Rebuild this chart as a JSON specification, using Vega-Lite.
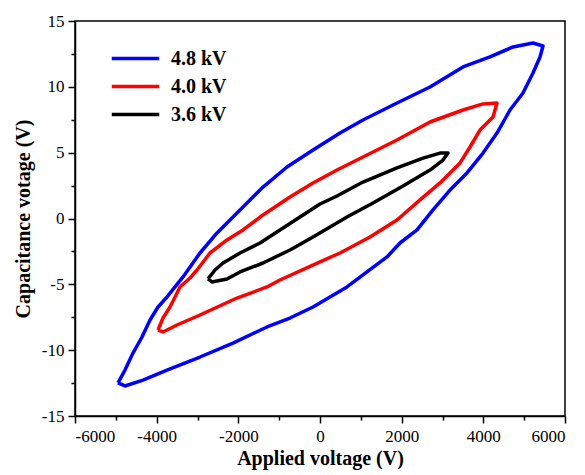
{
  "$schema": "https://vega.github.io/schema/vega-lite/v6.json",
  "width": 490,
  "height": 395,
  "autosize": {"type": "none"},
  "padding": {"left": 75, "top": 21, "right": 20, "bottom": 59},
  "background": "white",
  "config": {
    "view": {"stroke": "black", "strokeWidth": 1.5},
    "font": "Liberation Serif",
    "axis": {"labelFont": "Liberation Serif", "titleFont": "Liberation Serif"},
    "legend": {"labelFont": "Liberation Serif"}
  },
  "data": {
    "values": [
      {"s": "4.8 kV", "i": 1, "x": -4947, "y": -12.49},
      {"s": "4.8 kV", "i": 2, "x": -4776, "y": -11.51},
      {"s": "4.8 kV", "i": 3, "x": -4580, "y": -10.22},
      {"s": "4.8 kV", "i": 4, "x": -4359, "y": -9.0},
      {"s": "4.8 kV", "i": 5, "x": -4163, "y": -7.71},
      {"s": "4.8 kV", "i": 6, "x": -3967, "y": -6.72},
      {"s": "4.8 kV", "i": 7, "x": -3747, "y": -5.96},
      {"s": "4.8 kV", "i": 8, "x": -3551, "y": -5.2},
      {"s": "4.8 kV", "i": 9, "x": -3355, "y": -4.44},
      {"s": "4.8 kV", "i": 10, "x": -2939, "y": -2.62},
      {"s": "4.8 kV", "i": 11, "x": -2522, "y": -1.1},
      {"s": "4.8 kV", "i": 12, "x": -2204, "y": -0.11},
      {"s": "4.8 kV", "i": 13, "x": -1886, "y": 0.87},
      {"s": "4.8 kV", "i": 14, "x": -1396, "y": 2.39},
      {"s": "4.8 kV", "i": 15, "x": -808, "y": 3.91},
      {"s": "4.8 kV", "i": 16, "x": -171, "y": 5.2},
      {"s": "4.8 kV", "i": 17, "x": 490, "y": 6.49},
      {"s": "4.8 kV", "i": 18, "x": 1053, "y": 7.48},
      {"s": "4.8 kV", "i": 19, "x": 1886, "y": 8.77},
      {"s": "4.8 kV", "i": 20, "x": 2694, "y": 9.99},
      {"s": "4.8 kV", "i": 21, "x": 3502, "y": 11.51},
      {"s": "4.8 kV", "i": 22, "x": 4163, "y": 12.27},
      {"s": "4.8 kV", "i": 23, "x": 4727, "y": 13.03},
      {"s": "4.8 kV", "i": 24, "x": 5216, "y": 13.33},
      {"s": "4.8 kV", "i": 25, "x": 5461, "y": 13.1},
      {"s": "4.8 kV", "i": 26, "x": 5388, "y": 12.27},
      {"s": "4.8 kV", "i": 27, "x": 5216, "y": 11.05},
      {"s": "4.8 kV", "i": 28, "x": 4971, "y": 9.53},
      {"s": "4.8 kV", "i": 29, "x": 4653, "y": 8.24},
      {"s": "4.8 kV", "i": 30, "x": 4335, "y": 6.49},
      {"s": "4.8 kV", "i": 31, "x": 3992, "y": 4.97},
      {"s": "4.8 kV", "i": 32, "x": 3600, "y": 3.46},
      {"s": "4.8 kV", "i": 33, "x": 3184, "y": 2.16},
      {"s": "4.8 kV", "i": 34, "x": 2767, "y": 0.65},
      {"s": "4.8 kV", "i": 35, "x": 2376, "y": -0.87},
      {"s": "4.8 kV", "i": 36, "x": 1959, "y": -1.86},
      {"s": "4.8 kV", "i": 37, "x": 1641, "y": -2.92},
      {"s": "4.8 kV", "i": 38, "x": 1151, "y": -4.06},
      {"s": "4.8 kV", "i": 39, "x": 661, "y": -5.2},
      {"s": "4.8 kV", "i": 40, "x": 245, "y": -5.96},
      {"s": "4.8 kV", "i": 41, "x": -171, "y": -6.72},
      {"s": "4.8 kV", "i": 42, "x": -735, "y": -7.56},
      {"s": "4.8 kV", "i": 43, "x": -1298, "y": -8.24},
      {"s": "4.8 kV", "i": 44, "x": -2131, "y": -9.46},
      {"s": "4.8 kV", "i": 45, "x": -2939, "y": -10.52},
      {"s": "4.8 kV", "i": 46, "x": -3747, "y": -11.51},
      {"s": "4.8 kV", "i": 47, "x": -4335, "y": -12.27},
      {"s": "4.8 kV", "i": 48, "x": -4776, "y": -12.72},
      {"s": "4.8 kV", "i": 49, "x": -4947, "y": -12.49},
      {"s": "4.0 kV", "i": 1, "x": -3967, "y": -8.47},
      {"s": "4.0 kV", "i": 2, "x": -3845, "y": -7.56},
      {"s": "4.0 kV", "i": 3, "x": -3673, "y": -6.72},
      {"s": "4.0 kV", "i": 4, "x": -3429, "y": -5.2},
      {"s": "4.0 kV", "i": 5, "x": -3184, "y": -4.52},
      {"s": "4.0 kV", "i": 6, "x": -3012, "y": -3.91},
      {"s": "4.0 kV", "i": 7, "x": -2694, "y": -2.62},
      {"s": "4.0 kV", "i": 8, "x": -2278, "y": -1.63},
      {"s": "4.0 kV", "i": 9, "x": -1886, "y": -0.87},
      {"s": "4.0 kV", "i": 10, "x": -1396, "y": 0.27},
      {"s": "4.0 kV", "i": 11, "x": -735, "y": 1.63},
      {"s": "4.0 kV", "i": 12, "x": -171, "y": 2.7},
      {"s": "4.0 kV", "i": 13, "x": 416, "y": 3.68},
      {"s": "4.0 kV", "i": 14, "x": 1053, "y": 4.67},
      {"s": "4.0 kV", "i": 15, "x": 1886, "y": 5.96},
      {"s": "4.0 kV", "i": 16, "x": 2694, "y": 7.33},
      {"s": "4.0 kV", "i": 17, "x": 3502, "y": 8.24},
      {"s": "4.0 kV", "i": 18, "x": 3992, "y": 8.7},
      {"s": "4.0 kV", "i": 19, "x": 4335, "y": 8.77},
      {"s": "4.0 kV", "i": 20, "x": 4237, "y": 7.71},
      {"s": "4.0 kV", "i": 21, "x": 3918, "y": 6.72},
      {"s": "4.0 kV", "i": 22, "x": 3674, "y": 5.43},
      {"s": "4.0 kV", "i": 23, "x": 3429, "y": 4.22},
      {"s": "4.0 kV", "i": 24, "x": 2939, "y": 2.7},
      {"s": "4.0 kV", "i": 25, "x": 2449, "y": 1.41},
      {"s": "4.0 kV", "i": 26, "x": 1886, "y": -0.11},
      {"s": "4.0 kV", "i": 27, "x": 1225, "y": -1.41},
      {"s": "4.0 kV", "i": 28, "x": 490, "y": -2.62},
      {"s": "4.0 kV", "i": 29, "x": 0, "y": -3.3},
      {"s": "4.0 kV", "i": 30, "x": -980, "y": -4.67},
      {"s": "4.0 kV", "i": 31, "x": -1298, "y": -5.2},
      {"s": "4.0 kV", "i": 32, "x": -2033, "y": -6.04},
      {"s": "4.0 kV", "i": 33, "x": -2939, "y": -7.33},
      {"s": "4.0 kV", "i": 34, "x": -3502, "y": -8.09},
      {"s": "4.0 kV", "i": 35, "x": -3845, "y": -8.62},
      {"s": "4.0 kV", "i": 36, "x": -3967, "y": -8.47},
      {"s": "3.6 kV", "i": 1, "x": -2743, "y": -4.59},
      {"s": "3.6 kV", "i": 2, "x": -2571, "y": -3.91},
      {"s": "3.6 kV", "i": 3, "x": -2375, "y": -3.38},
      {"s": "3.6 kV", "i": 4, "x": -1959, "y": -2.62},
      {"s": "3.6 kV", "i": 5, "x": -1469, "y": -1.86},
      {"s": "3.6 kV", "i": 6, "x": -980, "y": -0.87},
      {"s": "3.6 kV", "i": 7, "x": -490, "y": 0.11},
      {"s": "3.6 kV", "i": 8, "x": 0, "y": 1.1},
      {"s": "3.6 kV", "i": 9, "x": 416, "y": 1.71},
      {"s": "3.6 kV", "i": 10, "x": 1053, "y": 2.77},
      {"s": "3.6 kV", "i": 11, "x": 1886, "y": 3.84},
      {"s": "3.6 kV", "i": 12, "x": 2523, "y": 4.59},
      {"s": "3.6 kV", "i": 13, "x": 2939, "y": 4.97},
      {"s": "3.6 kV", "i": 14, "x": 3135, "y": 4.97},
      {"s": "3.6 kV", "i": 15, "x": 3012, "y": 4.44},
      {"s": "3.6 kV", "i": 16, "x": 2694, "y": 3.68},
      {"s": "3.6 kV", "i": 17, "x": 2033, "y": 2.47},
      {"s": "3.6 kV", "i": 18, "x": 1298, "y": 1.18},
      {"s": "3.6 kV", "i": 19, "x": 661, "y": 0.11},
      {"s": "3.6 kV", "i": 20, "x": 245, "y": -0.65},
      {"s": "3.6 kV", "i": 21, "x": -171, "y": -1.41},
      {"s": "3.6 kV", "i": 22, "x": -735, "y": -2.39},
      {"s": "3.6 kV", "i": 23, "x": -1396, "y": -3.38},
      {"s": "3.6 kV", "i": 24, "x": -1959, "y": -4.06},
      {"s": "3.6 kV", "i": 25, "x": -2278, "y": -4.59},
      {"s": "3.6 kV", "i": 26, "x": -2645, "y": -4.82},
      {"s": "3.6 kV", "i": 27, "x": -2743, "y": -4.59}
    ]
  },
  "layer": [
    {
      "mark": {"type": "line", "strokeWidth": 3.5, "strokeJoin": "round"},
      "encoding": {
        "x": {
          "field": "x", "type": "quantitative",
          "scale": {"domain": [-6000, 6000], "nice": false, "zero": false},
          "axis": {
            "values": [-6000, -4000, -2000, 0, 2000, 4000, 6000],
            "labelExpr": "'' + datum.value",
            "grid": false, "domainColor": "black", "domainWidth": 1.5,
            "tickColor": "black", "tickWidth": 1.5, "tickSize": 7,
            "labelFont": "Liberation Serif", "labelFontSize": 17, "labelColor": "black", "labelPadding": 5,
            "title": "Applied voltage (V)", "titleFont": "Liberation Serif", "titleFontSize": 20,
            "titleFontWeight": "bold", "titleColor": "black", "titlePadding": 4
          }
        },
        "y": {
          "field": "y", "type": "quantitative",
          "scale": {"domain": [-15, 15], "nice": false, "zero": false},
          "axis": {
            "values": [-15, -10, -5, 0, 5, 10, 15],
            "labelExpr": "'' + datum.value",
            "grid": false, "domainColor": "black", "domainWidth": 1.5,
            "tickColor": "black", "tickWidth": 1.5, "tickSize": 7,
            "labelFont": "Liberation Serif", "labelFontSize": 17, "labelColor": "black", "labelPadding": 4,
            "title": "Capacitance votage (V)", "titleFont": "Liberation Serif", "titleFontSize": 20,
            "titleFontWeight": "bold", "titleColor": "black", "titlePadding": 8
          }
        },
        "color": {
          "field": "s", "type": "nominal",
          "scale": {"domain": ["4.8 kV", "4.0 kV", "3.6 kV"], "range": ["#0000ff", "#ff0000", "#000000"]},
          "legend": {
            "orient": "none", "legendX": 49, "legendY": 26, "title": null, "padding": 0,
            "symbolType": "M-2.5,0H2.5", "symbolSize": 361, "symbolStrokeWidth": 3.5,
            "labelFont": "Liberation Serif", "labelFontSize": 20, "labelFontWeight": "bold",
            "labelColor": "black", "labelOffset": 24, "rowPadding": 6
          }
        },
        "order": {"field": "i", "type": "quantitative"}
      }
    },
    {
      "mark": {"type": "point", "opacity": 0},
      "encoding": {
        "x": {
          "field": "x", "type": "quantitative",
          "axis": {
            "orient": "bottom",
            "values": [-5000, -3000, -1000, 1000, 3000, 5000],
            "grid": false, "domain": false, "labels": false, "title": null,
            "tickColor": "black", "tickWidth": 1.5, "tickSize": 4
          }
        },
        "y": {
          "field": "y", "type": "quantitative",
          "axis": {
            "orient": "left",
            "values": [-12.5, -7.5, -2.5, 2.5, 7.5, 12.5],
            "grid": false, "domain": false, "labels": false, "title": null,
            "tickColor": "black", "tickWidth": 1.5, "tickSize": 4
          }
        }
      }
    }
  ],
  "resolve": {"axis": {"x": "independent", "y": "independent"}}
}
